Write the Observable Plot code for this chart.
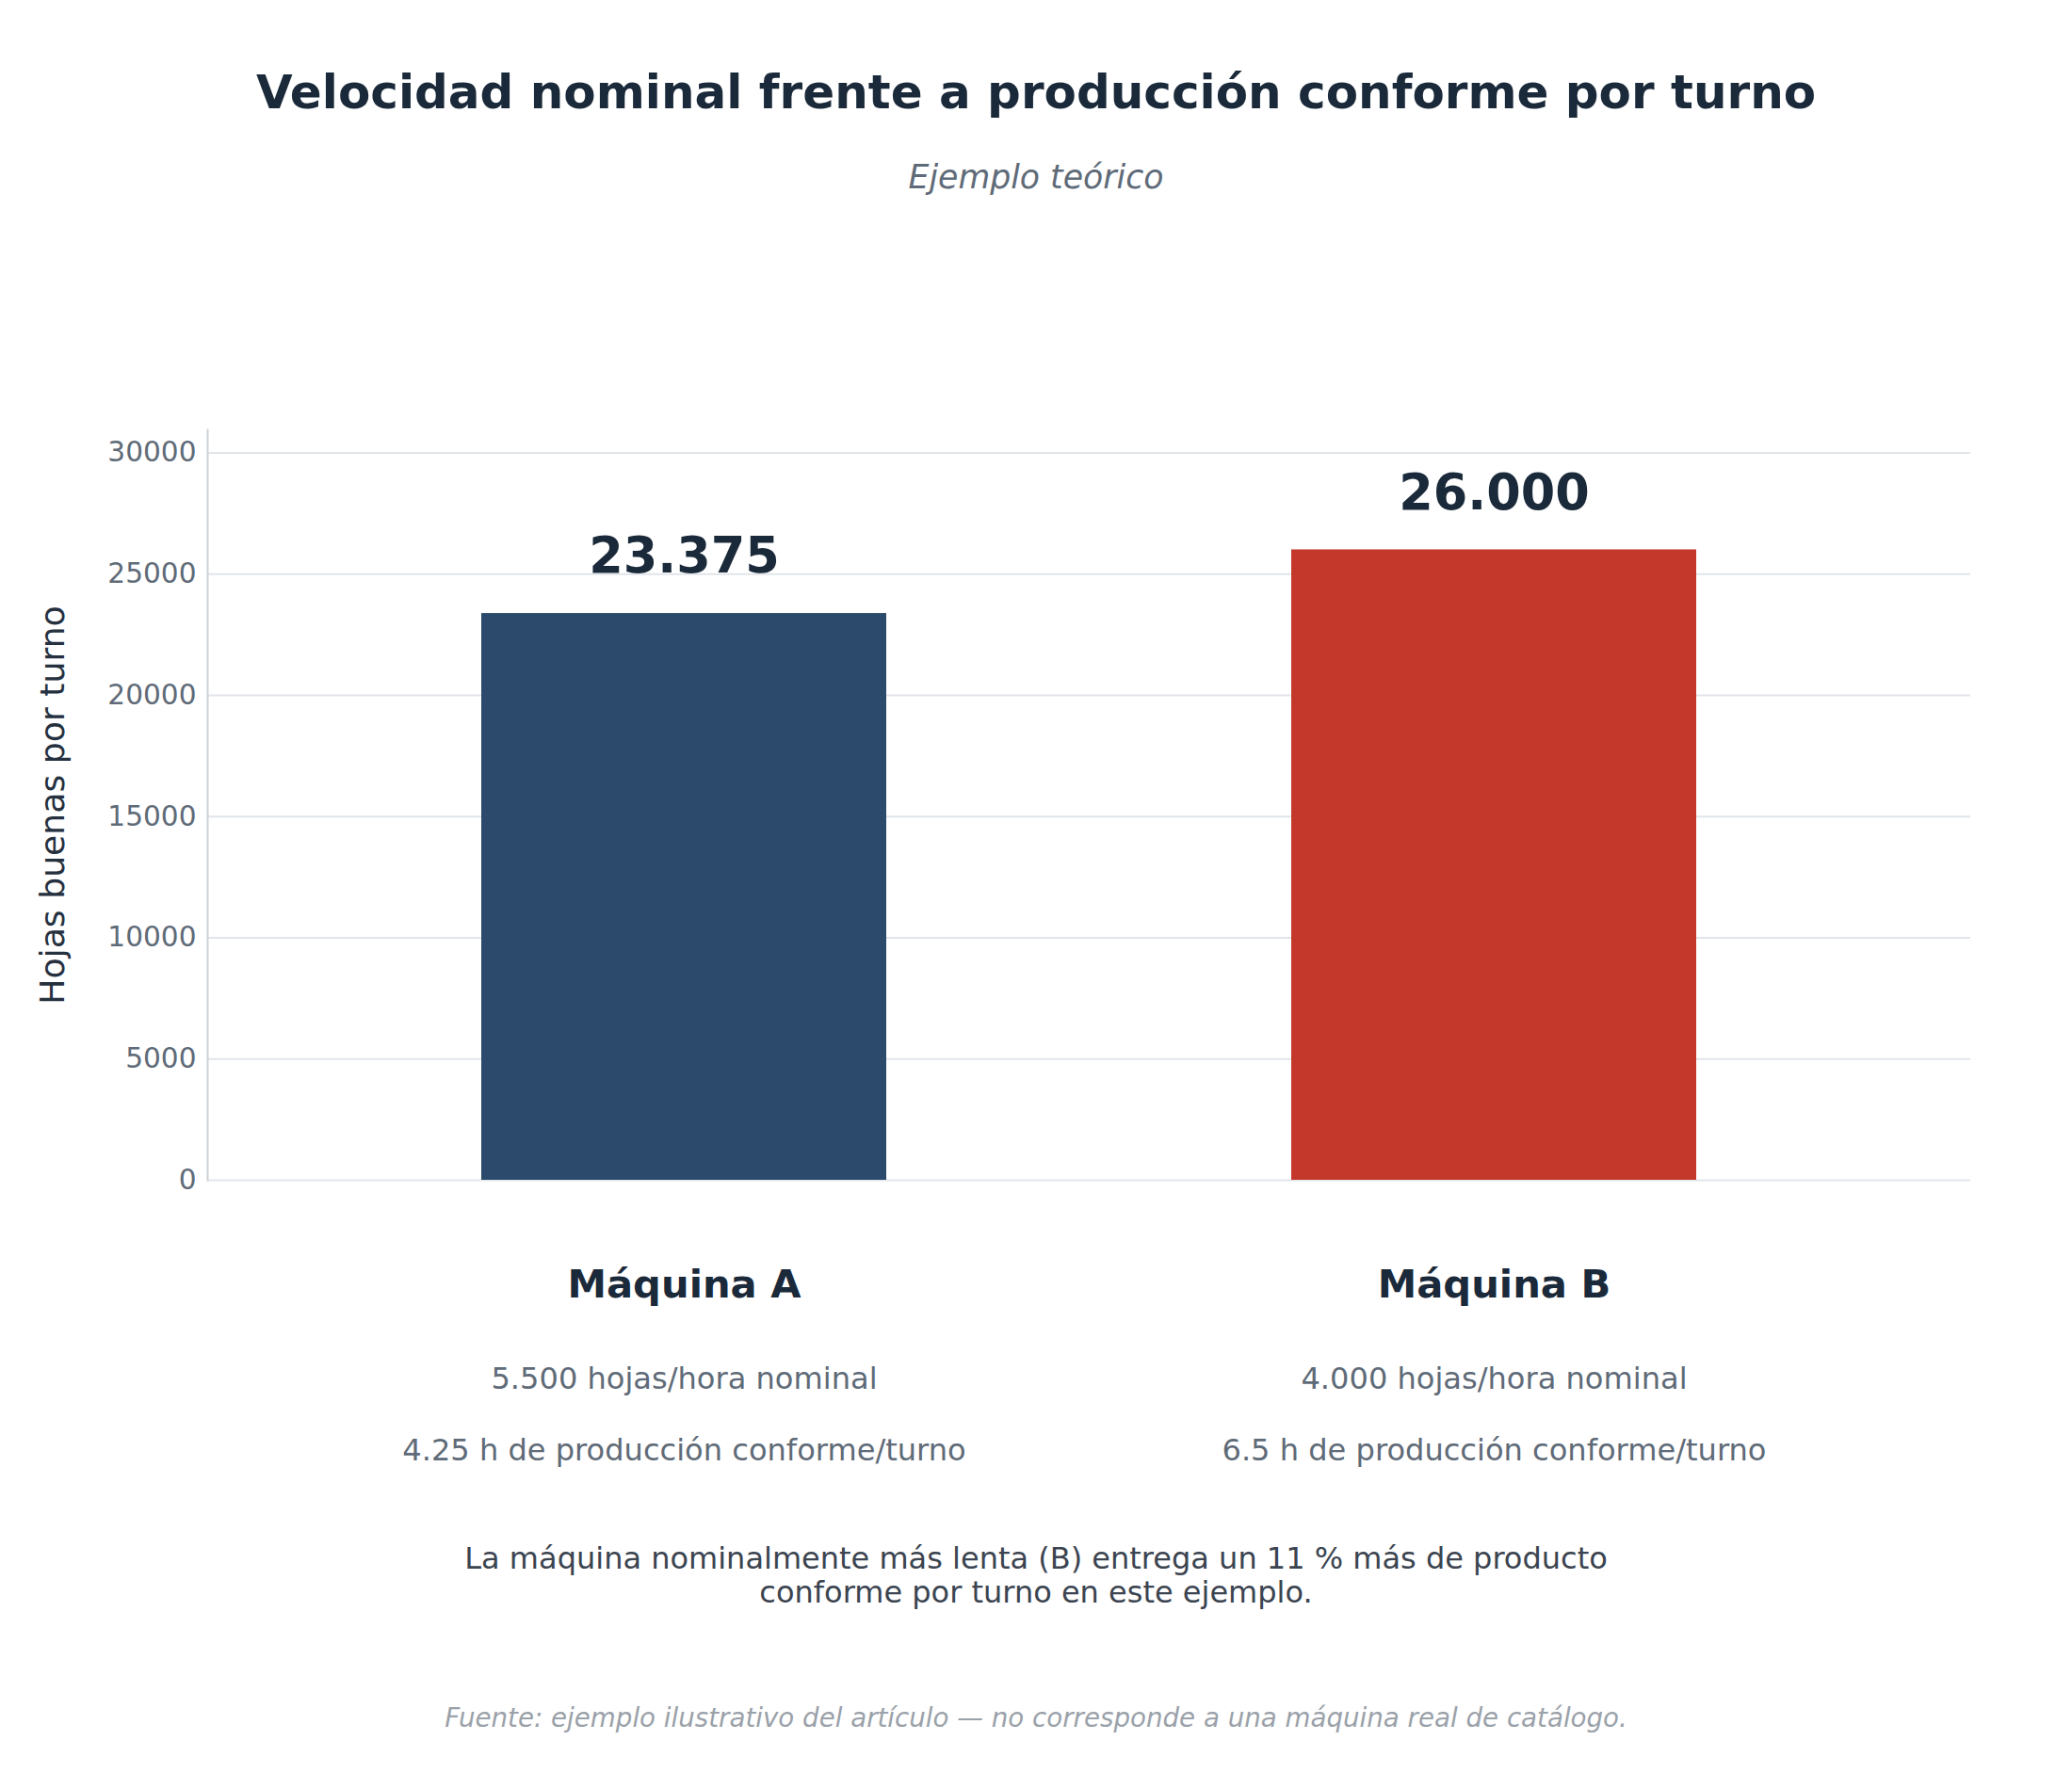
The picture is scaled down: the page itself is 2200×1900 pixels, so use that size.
<!DOCTYPE html>
<html>
<head>
<meta charset="utf-8">
<script src="https://cdn.jsdelivr.net/npm/d3@7"></script>
<script src="https://cdn.jsdelivr.net/npm/@observablehq/plot@0.6"></script>
<style>
  html, body { margin: 0; padding: 0; background: #ffffff; }
  #wrap { position: relative; width: 2200px; height: 1900px; background: #ffffff; font-family: "DejaVu Sans", sans-serif; }
  .t { position: absolute; left: 0; width: 2200px; text-align: center; line-height: 1; transform: translateY(-50%); white-space: pre; }
  #title { top: 98px; font-size: 50px; font-weight: bold; color: #1b2a3a; }
  #subtitle { top: 188px; font-size: 34.7px; font-style: italic; color: #5f6b78; }
  #note { top: 1673px; font-size: 32px; line-height: 36px; color: #3b4450; }
  #footer { top: 1825px; font-size: 27.7px; font-style: italic; color: #9aa1a9; }
  #chart { position: absolute; left: 0; top: 250px; }
</style>
</head>
<body>
<div id="wrap">
  <div id="title" class="t">Velocidad nominal frente a producción conforme por turno</div>
  <div id="subtitle" class="t">Ejemplo teórico</div>
  <div id="chart"></div>
  <div id="note" class="t">La máquina nominalmente más lenta (B) entrega un 11 % más de producto
conforme por turno en este ejemplo.</div>
  <div id="footer" class="t">Fuente: ejemplo ilustrativo del artículo — no corresponde a una máquina real de catálogo.</div>
</div>
<script>
// Data
const machines = ["Máquina A", "Máquina B"];
const goodSheetsPerShift = [23375, 26000];
const nominalRate = [5500, 4000];
const goodHours = ["4.25", "6.5"];
const barColors = ["#2c4a6c", "#c4382b"];
const yTicks = [0, 5000, 10000, 15000, 20000, 25000, 30000];
const yLabel = "Hojas buenas por turno";

const es = d3.formatLocale({decimal: ",", thousands: ".", grouping: [3], currency: ["", " €"]});
const fmt = es.format(",d");

const rows = machines.map((m, i) => ({
  machine: m,
  value: goodSheetsPerShift[i],
  color: barColors[i],
  rateText: `${fmt(nominalRate[i])} hojas/hora nominal`,
  hoursText: `${goodHours[i]} h de producción conforme/turno`
}));

const font = "DejaVu Sans";
const plot = Plot.plot({
  width: 2200,
  height: 1350,
  marginTop: 206,
  marginBottom: 347,
  marginLeft: 220,
  marginRight: 108,
  style: {fontFamily: font, background: "#ffffff", overflow: "visible"},
  x: {domain: machines, paddingInner: 0.5, paddingOuter: 0.338, axis: null},
  y: {domain: [0, 30950], axis: null},
  marks: [
    Plot.gridY(yTicks, {stroke: "#e1e5e9", strokeOpacity: 1, strokeWidth: 2}),
    Plot.frame({anchor: "left", stroke: "#ccd2d8", strokeWidth: 2}),
    Plot.axisY(yTicks, {
      tickSize: 0, tickPadding: 12, fontSize: 29.6, fill: "#5f6b78",
      tickFormat: d => String(d), label: null
    }),
    Plot.barY(rows, {x: "machine", y: "value", fill: "color"}),
    Plot.text(rows, {
      x: "machine", y: "value", text: d => fmt(d.value),
      dy: -60, lineAnchor: "middle", fontSize: 52.5, fontWeight: "bold", fill: "#1b2a3a"
    }),
    Plot.text(rows, {
      x: "machine", text: "machine", frameAnchor: "bottom", dy: 111,
      lineAnchor: "middle", fontSize: 41.7, fontWeight: "bold", fill: "#1b2a3a"
    }),
    Plot.text(rows, {
      x: "machine", text: "rateText", frameAnchor: "bottom", dy: 211,
      lineAnchor: "middle", fontSize: 32.1, fill: "#5f6b78"
    }),
    Plot.text(rows, {
      x: "machine", text: "hoursText", frameAnchor: "bottom", dy: 287,
      lineAnchor: "middle", fontSize: 32.1, fill: "#5f6b78"
    }),
    Plot.text([yLabel], {
      text: d => d, frameAnchor: "left", dx: -164, rotate: -90,
      textAnchor: "middle", lineAnchor: "middle", fontSize: 36.2, fill: "#263140"
    })
  ]
});
document.getElementById("chart").appendChild(plot);
</script>
</body>
</html>
